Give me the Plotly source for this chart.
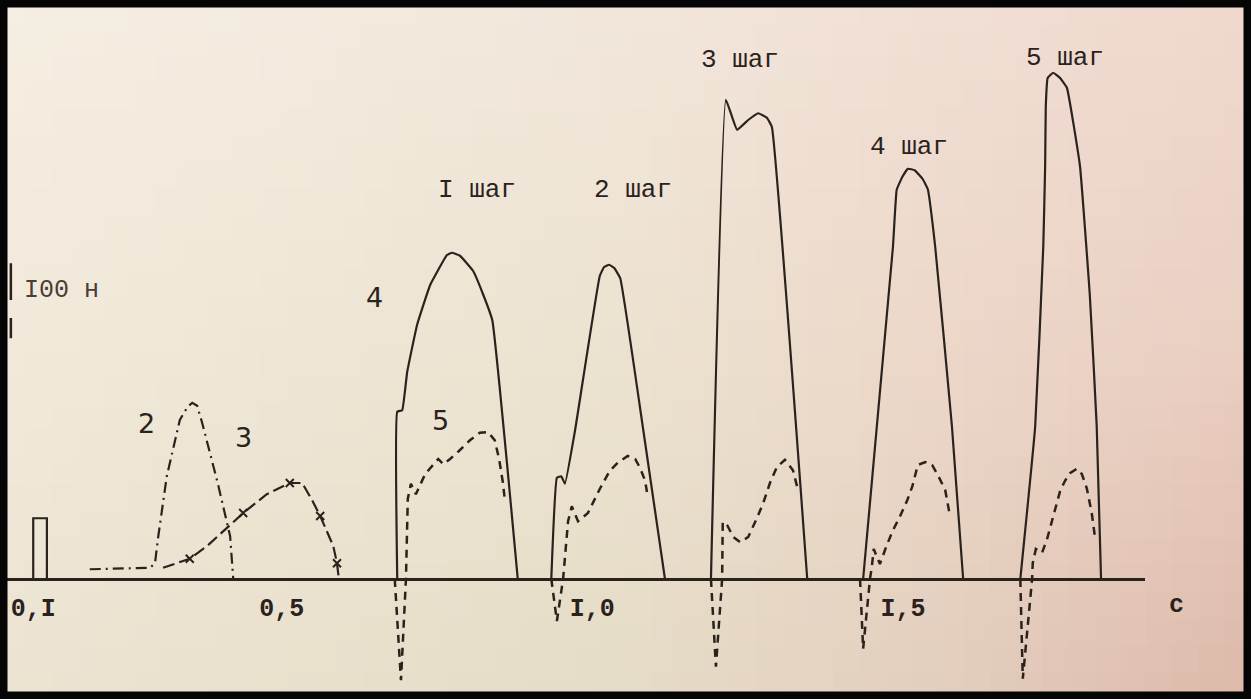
import numpy as np
import plotly.graph_objects as go

# ---------------- data (time in s, force in N) ----------------
# curve 1 : short rectangular pulse
c1_t = [0.100, 0.100, 0.122, 0.122]
c1_f = [0, 81, 81, 0]

# curve 2 : dash-dot
c2_t = [0.191, 0.288, 0.296, 0.301, 0.315, 0.336, 0.348, 0.356, 0.364, 0.372, 0.397, 0.417, 0.422]
c2_f = [13, 15, 21, 55, 137, 212, 229, 235, 231, 208, 128, 57, 0]

# curve 3 : dashed with crosses
c3_t = [0.309, 0.352, 0.380, 0.417, 0.438, 0.476, 0.513, 0.533, 0.549, 0.562, 0.583, 0.589, 0.592]
c3_f = [15, 27, 44, 72, 88, 113, 128, 128, 105, 84, 44, 21, 0]
c3_cross_idx = [1, 4, 6, 9, 11]

# curve 4 : solid, steps 1..5
c4_s1_t = [0.686, 0.686, 0.694, 0.702, 0.718, 0.739, 0.766, 0.774, 0.787, 0.808, 0.824, 0.839, 0.880]
c4_s1_f = [0, 223, 225, 276, 339, 392, 432, 435, 431, 411, 380, 345, 0]
c4_s2_t = [0.934, 0.943, 0.950, 0.956, 0.972, 1.012, 1.019, 1.027, 1.035, 1.045, 1.082, 1.117]
c4_s2_f = [0, 135, 137, 127, 197, 404, 416, 419, 415, 401, 199, 0]
c4_s3_t = [1.191, 1.215, 1.233, 1.251, 1.267, 1.281, 1.289, 1.346]
c4_s3_f = [0, 639, 599, 612, 621, 615, 603, 0]
c4_s4_t = [1.436, 1.484, 1.490, 1.499, 1.508, 1.519, 1.532, 1.540, 1.552, 1.579, 1.597]
c4_s4_f = [0, 443, 519, 536, 547, 545, 533, 520, 443, 203, 0]
c4_s5_t = [1.689, 1.713, 1.726, 1.729, 1.730, 1.733, 1.742, 1.753, 1.764, 1.785, 1.801, 1.812, 1.819]
c4_s5_f = [0, 204, 444, 551, 630, 668, 675, 668, 655, 551, 377, 204, 0]

# curve 5 : dashed, steps 1..5
c5_s1_t = [0.682, 0.692, 0.700, 0.703, 0.708, 0.716, 0.731, 0.744, 0.752, 0.760, 0.771, 0.787,
           0.803, 0.819, 0.832, 0.843, 0.850, 0.856, 0.859]
c5_s1_f = [0, -135, 0, 107, 127, 113, 140, 153, 160, 153, 160, 172, 185, 195, 196, 185, 160, 129, 107]
c5_s2_t = [0.934, 0.943, 0.953, 0.961, 0.967, 0.977, 0.993, 1.012, 1.028, 1.041, 1.057, 1.069,
           1.077, 1.085, 1.088]
c5_s2_f = [0, -56, 0, 77, 97, 77, 88, 120, 144, 155, 164, 160, 148, 131, 116]
c5_s3_t = [1.191, 1.199, 1.209, 1.210, 1.217, 1.227, 1.238, 1.251, 1.265, 1.275, 1.286, 1.297,
           1.310, 1.323, 1.331]
c5_s3_f = [0, -117, 0, 76, 72, 56, 49, 56, 81, 101, 128, 149, 159, 145, 119]
c5_s4_t = [1.431, 1.436, 1.447, 1.450, 1.453, 1.463, 1.474, 1.484, 1.495, 1.507, 1.515, 1.524,
           1.536, 1.547, 1.556, 1.568, 1.576]
c5_s4_f = [0, -93, 0, 16, 40, 20, 45, 65, 83, 105, 123, 152, 156, 152, 139, 119, 83]
c5_s5_t = [1.689, 1.693, 1.708, 1.709, 1.714, 1.724, 1.732, 1.742, 1.753, 1.761, 1.769, 1.780,
           1.788, 1.796, 1.804, 1.809]
c5_s5_f = [0, -133, 0, 21, 40, 35, 53, 84, 117, 131, 141, 147, 140, 121, 88, 57]

# 100 N scale bar (left edge)
scale_t = [0.064, 0.064, None, 0.064, 0.064]
scale_f = [421, 372, None, 348, 321]

# tick labels
tick_vals = [0.1, 0.5, 1.0, 1.5]
tick_text = ["<b>0,I</b>", "<b>0,5</b>", "<b>I,0</b>", "<b>I,5</b>"]

step_labels = ["I шаг", "2 шаг", "3 шаг", "4 шаг", "5 шаг"]
step_label_t = [0.814, 1.066, 1.238, 1.510, 1.761]
step_label_f = [519, 519, 692, 576, 695]

curve_labels = ["2", "3", "4", "5"]
curve_label_t = [0.283, 0.438, 0.649, 0.756]
curve_label_f = [208, 189, 376, 211]

# ---------------- style ----------------
W, H = 1251, 699
INK = "#2a221d"
TYPE_FONT = "Liberation Mono"
HAND_FONT = "DejaVu Sans"

fig = go.Figure()

fig.add_trace(go.Scatter(x=c1_t, y=c1_f, mode="lines",
                         line=dict(color=INK, width=2.2), hoverinfo="skip"))
fig.add_trace(go.Scatter(x=c2_t, y=c2_f, mode="lines",
                         line=dict(color=INK, width=2.2, dash="11px,5px,2px,5px"), hoverinfo="skip"))
fig.add_trace(go.Scatter(x=c3_t, y=c3_f, mode="lines",
                         line=dict(color=INK, width=2.2, dash="12px,5px"), hoverinfo="skip"))
fig.add_trace(go.Scatter(x=[c3_t[i] for i in c3_cross_idx], y=[c3_f[i] for i in c3_cross_idx],
                         mode="markers",
                         marker=dict(symbol="x-thin", size=8, line=dict(color=INK, width=2)),
                         hoverinfo="skip"))

for t, f in [(c4_s1_t, c4_s1_f), (c4_s2_t, c4_s2_f), (c4_s3_t, c4_s3_f),
             (c4_s4_t, c4_s4_f), (c4_s5_t, c4_s5_f)]:
    fig.add_trace(go.Scatter(x=t, y=f, mode="lines", line_shape="spline",
                             line=dict(color=INK, width=2.2, smoothing=0.3), hoverinfo="skip"))

for t, f in [(c5_s1_t, c5_s1_f), (c5_s2_t, c5_s2_f), (c5_s3_t, c5_s3_f),
             (c5_s4_t, c5_s4_f), (c5_s5_t, c5_s5_f)]:
    fig.add_trace(go.Scatter(x=t, y=f, mode="lines",
                             line=dict(color=INK, width=2.5, dash="8px,6px"), hoverinfo="skip"))

fig.add_trace(go.Scatter(x=scale_t, y=scale_f, mode="lines",
                         line=dict(color=INK, width=2.5), hoverinfo="skip"))

# ---------------- annotations ----------------
for txt, t, f in zip(step_labels, step_label_t, step_label_f):
    fig.add_annotation(x=t, y=f, text=txt, showarrow=False,
                       font=dict(family=TYPE_FONT, size=26, color=INK))
for txt, t, f in zip(curve_labels, curve_label_t, curve_label_f):
    fig.add_annotation(x=t, y=f, text=txt, showarrow=False,
                       font=dict(family=HAND_FONT, size=27, color=INK))
fig.add_annotation(x=0.146, y=385, text="I00 н", showarrow=False,
                   font=dict(family=TYPE_FONT, size=25, color="#4a3d35"))
fig.add_annotation(x=1186 / W, y=1 - 622 / H, xref="paper", yref="paper", text="<b>c</b>",
                   showarrow=False, font=dict(family=TYPE_FONT, size=25, color=INK))

# ---------------- paper background (gradient made of shapes) ----------------
ctrl = np.array([
    [[245, 238, 226], [243, 235, 223], [242, 230, 219], [241, 223, 213], [240, 216, 206]],
    [[241, 233, 218], [238, 230, 213], [236, 226, 208], [236, 215, 201], [234, 206, 194]],
    [[236, 228, 210], [232, 224, 203], [229, 220, 199], [227, 206, 189], [220, 184, 168]],
], dtype=float)
nx, ny = 48, 26
shapes = []
for j in range(ny):
    for i in range(nx):
        u = (i + 0.5) / nx * (ctrl.shape[1] - 1)
        v = (j + 0.5) / ny * (ctrl.shape[0] - 1)
        i0, j0 = int(u), int(v)
        i1, j1 = min(i0 + 1, ctrl.shape[1] - 1), min(j0 + 1, ctrl.shape[0] - 1)
        fu, fv = u - i0, v - j0
        c = ((1 - fu) * (1 - fv) * ctrl[j0, i0] + fu * (1 - fv) * ctrl[j0, i1]
             + (1 - fu) * fv * ctrl[j1, i0] + fu * fv * ctrl[j1, i1])
        shapes.append(dict(type="rect", xref="paper", yref="paper", layer="below",
                           x0=i / nx, x1=(i + 1) / nx + 0.001,
                           y0=1 - (j + 1) / ny - 0.001, y1=1 - j / ny,
                           line=dict(width=0),
                           fillcolor="rgb(%d,%d,%d)" % tuple(np.round(c))))
# black photo frame
shapes.append(dict(type="rect", xref="paper", yref="paper", layer="above",
                   x0=0, x1=1, y0=0, y1=1, line=dict(color="#050505", width=15)))

baseline_px = 579
t_per_px = 1 / 621.2
t_left = 28.9 * t_per_px
axis_end_px = 1145
f_per_px = 1 / 0.75

fig.update_layout(
    width=W, height=H,
    margin=dict(l=0, r=0, t=0, b=0),
    paper_bgcolor="#efe4d4", plot_bgcolor="rgba(0,0,0,0)",
    showlegend=False,
    shapes=shapes,
    xaxis=dict(domain=[0, axis_end_px / W],
               range=[t_left, t_left + axis_end_px * t_per_px],
               anchor="free", position=(H - baseline_px) / H,
               showline=True, linecolor=INK, linewidth=2.5,
               showgrid=False, zeroline=False,
               tickvals=tick_vals, ticktext=tick_text,
               ticks="", ticklabelstandoff=5,
               tickfont=dict(family=TYPE_FONT, size=25, color=INK)),
    yaxis=dict(domain=[0, 1],
               range=[-(H - baseline_px) * f_per_px, baseline_px * f_per_px],
               visible=False),
)

fig.write_html("out.html")
